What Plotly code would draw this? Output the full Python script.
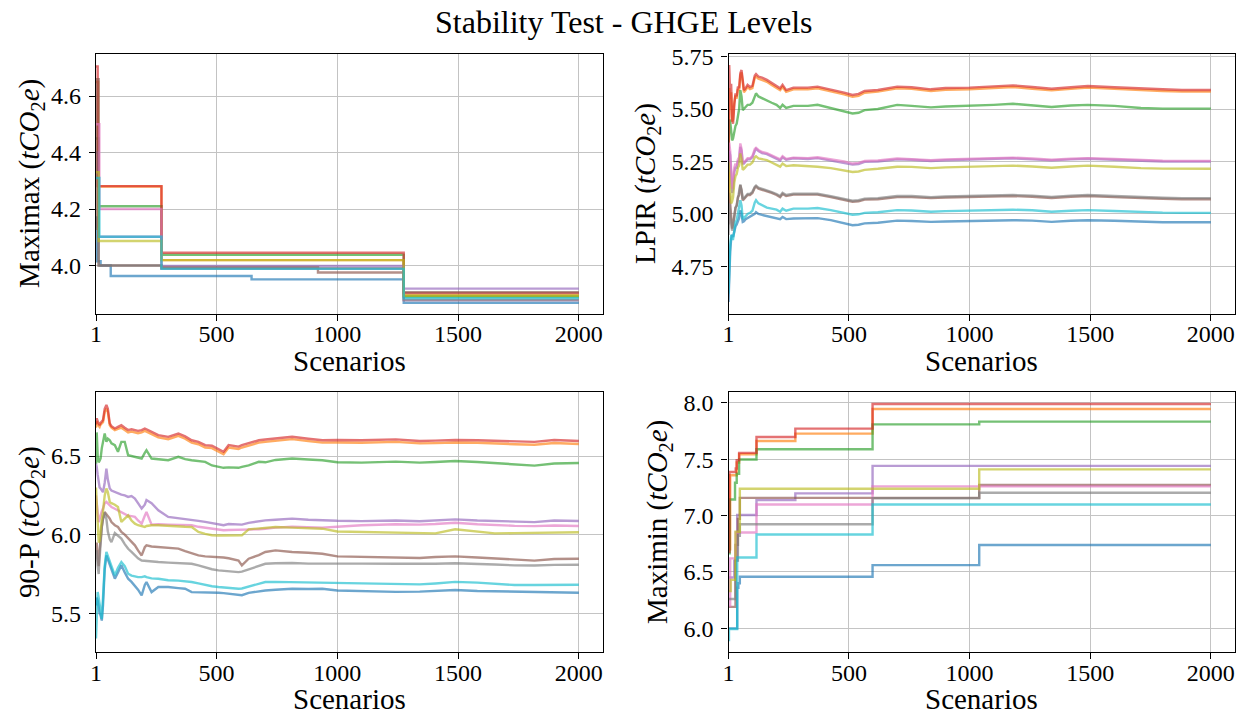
import plotly.graph_objects as go

# ---------------- data ----------------
TITLE = "Stability Test - GHGE Levels"
X_LABEL = "Scenarios"
Y_LABELS = ["Maximax", "LPIR", "90-P", "Maximin"]
SERIES_COLORS = ["#1f77b4", "#ff7f0e", "#2ca02c", "#d62728", "#9467bd",
                 "#8c564b", "#e377c2", "#7f7f7f", "#bcbd22", "#17becf"]
X_TICKS = [1, 500, 1000, 1500, 2000]

# Maximax (step values: each value holds until the next x)
MAXIMAX_X_BLUE = [1, 5, 20, 62, 645, 1275, 2000]
MAXIMAX_Y_BLUE = [4.17, 4.015, 4.0, 3.963, 3.951, 3.868, 3.868]
MAXIMAX_X_ORANGE = [1, 10, 272, 1275, 2000]
MAXIMAX_Y_ORANGE = [4.65, 4.28, 4.019, 3.894, 3.894]
MAXIMAX_X_GREEN = [1, 12, 272, 1275, 2000]
MAXIMAX_Y_GREEN = [4.45, 4.21, 4.038, 3.890, 3.890]
MAXIMAX_X_RED = [1, 8, 272, 1275, 2000]
MAXIMAX_Y_RED = [4.705, 4.281, 4.045, 3.902, 3.902]
MAXIMAX_X_PURPLE = [1, 10, 272, 1275, 2000]
MAXIMAX_Y_PURPLE = [4.40, 4.102, 3.998, 3.918, 3.918]
MAXIMAX_X_BROWN = [1, 4, 12, 272, 920, 1275, 2000]
MAXIMAX_Y_BROWN = [4.13, 4.66, 4.0, 3.993, 3.975, 3.905, 3.905]
MAXIMAX_X_PINK = [1, 15, 272, 1275, 2000]
MAXIMAX_Y_PINK = [4.50, 4.20, 3.988, 3.878, 3.878]
MAXIMAX_X_GRAY = [1, 12, 272, 1275, 2000]
MAXIMAX_Y_GRAY = [4.13, 4.0, 3.99, 3.878, 3.878]
MAXIMAX_X_OLIVE = [1, 12, 272, 1275, 2000]
MAXIMAX_Y_OLIVE = [4.33, 4.087, 4.019, 3.894, 3.894]
MAXIMAX_X_CYAN = [1, 15, 272, 1275, 2000]
MAXIMAX_Y_CYAN = [4.31, 4.102, 3.988, 3.884, 3.884]

# LPIR
LPIR_X = [1, 4, 8, 12, 16, 20, 25, 30, 35, 40, 45, 50, 55, 60, 65, 72, 80, 90, 100, 110,
          115, 125, 140, 160, 180, 200, 215, 225, 240, 270, 330, 370, 425, 480, 515, 540,
          565, 620, 700, 760, 840, 900, 1000, 1100, 1180, 1260, 1340, 1420, 1490, 1600,
          1710, 1800, 1880, 2000]
LPIR_BLUE = [4.58, 4.72, 4.82, 4.88, 4.90, 4.89, 4.92, 4.94, 4.95, 4.97, 4.98, 5.017, 5.0, 4.962,
             4.965, 4.975, 4.98, 4.985, 4.99, 5.0, 5.008, 5.0, 4.995, 4.99, 4.986, 4.98, 4.975,
             4.985, 4.975, 4.978, 4.978, 4.98, 4.97, 4.955, 4.946, 4.948, 4.955, 4.958, 4.968,
             4.966, 4.962, 4.964, 4.966, 4.968, 4.97, 4.968, 4.962, 4.967, 4.97, 4.967, 4.962,
             4.96, 4.96, 4.96]
LPIR_ORANGE = [5.10, 5.60, 5.50, 5.58, 5.44, 5.45, 5.53, 5.565, 5.55, 5.595, 5.59, 5.66, 5.675,
               5.61, 5.58, 5.59, 5.605, 5.595, 5.60, 5.65, 5.655, 5.645, 5.64, 5.63, 5.615, 5.60,
               5.59, 5.605, 5.582, 5.594, 5.594, 5.599, 5.586, 5.57, 5.558, 5.563, 5.578, 5.583,
               5.599, 5.596, 5.586, 5.592, 5.594, 5.599, 5.605, 5.597, 5.589, 5.596, 5.602,
               5.596, 5.589, 5.586, 5.583, 5.583]
LPIR_GREEN = [5.30, 5.45, 5.44, 5.38, 5.35, 5.36, 5.40, 5.42, 5.43, 5.47, 5.50, 5.59, 5.56, 5.495,
              5.50, 5.51, 5.52, 5.52, 5.53, 5.565, 5.575, 5.56, 5.551, 5.543, 5.53, 5.52, 5.505,
              5.52, 5.505, 5.515, 5.515, 5.52, 5.505, 5.49, 5.479, 5.482, 5.495, 5.50, 5.52,
              5.515, 5.508, 5.512, 5.515, 5.52, 5.525, 5.518, 5.51, 5.517, 5.52, 5.515, 5.505,
              5.502, 5.502, 5.502]
LPIR_RED = [5.05, 5.71, 5.55, 5.62, 5.45, 5.43, 5.52, 5.575, 5.56, 5.607, 5.60, 5.67, 5.686, 5.62,
            5.59, 5.60, 5.615, 5.605, 5.61, 5.66, 5.667, 5.655, 5.65, 5.639, 5.625, 5.61, 5.599,
            5.615, 5.59, 5.602, 5.602, 5.607, 5.594, 5.578, 5.567, 5.572, 5.586, 5.591, 5.607,
            5.604, 5.594, 5.600, 5.602, 5.607, 5.613, 5.605, 5.597, 5.604, 5.61, 5.604, 5.597,
            5.594, 5.591, 5.591]
LPIR_PURPLE = [5.20, 5.30, 5.28, 5.15, 5.10, 5.12, 5.20, 5.22, 5.22, 5.25, 5.25, 5.32, 5.30, 5.24,
               5.24, 5.25, 5.26, 5.26, 5.27, 5.30, 5.31, 5.30, 5.29, 5.285, 5.275, 5.265, 5.255,
               5.27, 5.258, 5.265, 5.262, 5.266, 5.255, 5.245, 5.235, 5.238, 5.248, 5.25, 5.26,
               5.258, 5.252, 5.256, 5.258, 5.26, 5.265, 5.26, 5.255, 5.26, 5.263, 5.258, 5.252,
               5.25, 5.249, 5.249]
LPIR_BROWN = [4.95, 5.10, 5.05, 4.98, 4.93, 4.95, 5.00, 5.03, 5.04, 5.08, 5.09, 5.137, 5.11, 5.065,
              5.07, 5.08, 5.09, 5.09, 5.10, 5.125, 5.13, 5.12, 5.115, 5.108, 5.1, 5.09, 5.08,
              5.095, 5.085, 5.092, 5.09, 5.092, 5.08, 5.068, 5.058, 5.06, 5.068, 5.07, 5.08,
              5.08, 5.075, 5.078, 5.08, 5.082, 5.085, 5.082, 5.076, 5.082, 5.085, 5.08, 5.074,
              5.072, 5.07, 5.07]
LPIR_PINK = [5.32, 5.34, 5.30, 5.20, 5.12, 5.15, 5.22, 5.24, 5.23, 5.26, 5.27, 5.336, 5.31, 5.245,
             5.245, 5.255, 5.265, 5.265, 5.275, 5.31, 5.315, 5.305, 5.295, 5.29, 5.28, 5.27, 5.26,
             5.275, 5.262, 5.268, 5.266, 5.27, 5.26, 5.25, 5.24, 5.243, 5.252, 5.255, 5.264,
             5.262, 5.256, 5.26, 5.262, 5.264, 5.268, 5.264, 5.258, 5.263, 5.266, 5.262, 5.256,
             5.254, 5.253, 5.253]
LPIR_GRAY = [4.90, 5.05, 5.00, 4.95, 4.92, 4.94, 5.00, 5.03, 5.04, 5.08, 5.095, 5.14, 5.115, 5.07,
             5.075, 5.085, 5.095, 5.095, 5.105, 5.13, 5.135, 5.125, 5.12, 5.112, 5.104, 5.095,
             5.085, 5.1, 5.09, 5.096, 5.094, 5.096, 5.085, 5.073, 5.063, 5.065, 5.073, 5.075,
             5.085, 5.085, 5.08, 5.083, 5.085, 5.087, 5.09, 5.087, 5.081, 5.087, 5.09, 5.085,
             5.079, 5.077, 5.075, 5.075]
LPIR_OLIVE = [5.25, 5.20, 5.10, 5.05, 5.06, 5.08, 5.15, 5.18, 5.19, 5.22, 5.23, 5.288, 5.26, 5.21,
              5.215, 5.225, 5.235, 5.235, 5.245, 5.27, 5.275, 5.265, 5.26, 5.256, 5.245, 5.235,
              5.225, 5.24, 5.228, 5.232, 5.228, 5.225, 5.218, 5.208, 5.2, 5.202, 5.21, 5.215,
              5.225, 5.224, 5.218, 5.222, 5.224, 5.226, 5.23, 5.226, 5.22, 5.226, 5.23, 5.225,
              5.218, 5.216, 5.215, 5.215]
LPIR_CYAN = [4.62, 4.75, 4.85, 4.90, 4.88, 4.88, 4.92, 4.96, 4.97, 5.00, 5.02, 5.065, 5.04, 4.975,
             4.98, 4.99, 5.00, 5.005, 5.015, 5.055, 5.065, 5.05, 5.04, 5.03, 5.025, 5.02, 5.01,
             5.025, 5.015, 5.025, 5.025, 5.028, 5.018, 5.005, 4.996, 4.998, 5.005, 5.008, 5.018,
             5.016, 5.01, 5.013, 5.015, 5.017, 5.02, 5.017, 5.01, 5.015, 5.018, 5.014, 5.008,
             5.006, 5.005, 5.005]

# 90-P
P90_X = [1, 4, 8, 12, 16, 20, 25, 30, 37, 44, 50, 58, 65, 79, 92, 106, 120, 134, 148, 162,
         175, 190, 203, 210, 231, 259, 300, 342, 370, 397, 425, 453, 481, 508, 529, 550, 591,
         605, 633, 675, 702, 744, 813, 880, 938, 1000, 1100, 1242, 1341, 1406, 1488, 1580,
         1652, 1734, 1816, 1898, 2000]
P90_BLUE = [5.55, 5.60, 5.58, 5.52, 5.50, 5.486, 5.454, 5.55, 5.78, 5.868, 5.84, 5.805, 5.78, 5.72,
            5.76, 5.805, 5.76, 5.72, 5.70, 5.677, 5.65, 5.614, 5.68, 5.699, 5.635, 5.667, 5.667,
            5.66, 5.656, 5.635, 5.635, 5.633, 5.632, 5.631, 5.628, 5.625, 5.618, 5.615, 5.63,
            5.64, 5.645, 5.65, 5.656, 5.655, 5.656, 5.645, 5.64, 5.636, 5.638, 5.642, 5.648,
            5.642, 5.64, 5.635, 5.632, 5.634, 5.631]
P90_ORANGE = [6.68, 6.72, 6.70, 6.69, 6.685, 6.70, 6.71, 6.715, 6.78, 6.80, 6.78, 6.695, 6.68,
              6.665, 6.672, 6.68, 6.665, 6.65, 6.655, 6.65, 6.645, 6.65, 6.66, 6.655, 6.64, 6.618,
              6.607, 6.628, 6.61, 6.585, 6.575, 6.554, 6.55, 6.53, 6.512, 6.554, 6.545, 6.554,
              6.565, 6.585, 6.59, 6.596, 6.607, 6.595, 6.585, 6.586, 6.584, 6.59, 6.58, 6.582,
              6.586, 6.584, 6.582, 6.575, 6.572, 6.583, 6.576]
P90_GREEN = [6.45, 6.65, 6.50, 6.46, 6.47, 6.484, 6.55, 6.60, 6.643, 6.59, 6.61, 6.60, 6.58, 6.569,
             6.527, 6.59, 6.59, 6.505, 6.50, 6.495, 6.49, 6.484, 6.52, 6.537, 6.484, 6.48, 6.473,
             6.495, 6.48, 6.473, 6.468, 6.463, 6.44, 6.431, 6.425, 6.428, 6.425, 6.431, 6.44,
             6.463, 6.46, 6.475, 6.484, 6.478, 6.473, 6.46, 6.458, 6.464, 6.458, 6.462, 6.468,
             6.462, 6.455, 6.45, 6.439, 6.452, 6.456]
P90_RED = [6.70, 6.74, 6.72, 6.70, 6.696, 6.71, 6.72, 6.728, 6.80, 6.824, 6.80, 6.707, 6.69, 6.675,
           6.685, 6.696, 6.68, 6.665, 6.67, 6.665, 6.66, 6.665, 6.675, 6.67, 6.655, 6.633, 6.622,
           6.643, 6.625, 6.60, 6.59, 6.569, 6.565, 6.545, 6.527, 6.569, 6.56, 6.569, 6.58, 6.60,
           6.605, 6.611, 6.622, 6.61, 6.60, 6.602, 6.60, 6.606, 6.595, 6.598, 6.602, 6.60, 6.598,
           6.591, 6.59, 6.602, 6.595]
P90_PURPLE = [6.45, 6.43, 6.38, 6.33, 6.30, 6.293, 6.28, 6.27, 6.33, 6.42, 6.35, 6.293, 6.28, 6.27,
              6.26, 6.255, 6.25, 6.24, 6.245, 6.23, 6.2, 6.166, 6.19, 6.22, 6.2, 6.155, 6.113,
              6.105, 6.102, 6.095, 6.088, 6.081, 6.075, 6.065, 6.06, 6.068, 6.064, 6.064, 6.075,
              6.085, 6.091, 6.095, 6.102, 6.095, 6.091, 6.088, 6.086, 6.09, 6.085, 6.09, 6.097,
              6.09, 6.088, 6.082, 6.08, 6.09, 6.087]
P90_BROWN = [5.90, 5.95, 5.85, 5.80, 5.90, 5.98, 6.05, 6.10, 6.144, 6.13, 6.12, 6.102, 6.08, 6.06,
             6.049, 6.017, 6.0, 5.975, 5.95, 5.932, 5.9, 5.868, 5.92, 5.932, 5.925, 5.921, 5.915,
             5.911, 5.895, 5.88, 5.868, 5.862, 5.86, 5.858, 5.855, 5.85, 5.836, 5.805, 5.847,
             5.87, 5.89, 5.90, 5.89, 5.885, 5.879, 5.862, 5.858, 5.855, 5.852, 5.858, 5.862,
             5.855, 5.85, 5.84, 5.835, 5.845, 5.847]
P90_PINK = [6.25, 6.20, 6.10, 6.08, 6.10, 6.13, 6.15, 6.166, 6.20, 6.208, 6.20, 6.187, 6.175, 6.165,
            6.155, 6.14, 6.13, 6.12, 6.118, 6.113, 6.09, 6.07, 6.12, 6.144, 6.064, 6.066, 6.064,
            6.063, 6.061, 6.06, 6.05, 6.045, 6.04, 6.032, 6.028, 6.03, 6.03, 6.03, 6.032, 6.034,
            6.038, 6.045, 6.05, 6.049, 6.045, 6.05, 6.06, 6.066, 6.064, 6.068, 6.076, 6.066,
            6.06, 6.056, 6.054, 6.058, 6.055]
P90_GRAY = [5.85, 5.90, 5.80, 5.75, 5.85, 5.95, 6.05, 6.10, 6.14, 6.10, 6.02, 5.97, 5.953, 6.01,
            5.99, 5.975, 5.94, 5.91, 5.89, 5.87, 5.85, 5.836, 5.835, 5.833, 5.83, 5.826, 5.822,
            5.82, 5.818, 5.815, 5.805, 5.79, 5.78, 5.773, 5.77, 5.768, 5.762, 5.765, 5.78, 5.80,
            5.815, 5.818, 5.82, 5.816, 5.815, 5.815, 5.816, 5.815, 5.813, 5.815, 5.818, 5.815,
            5.81, 5.805, 5.804, 5.808, 5.809]
P90_OLIVE = [6.30, 6.20, 6.00, 5.95, 5.96, 6.05, 6.10, 6.15, 6.25, 6.293, 6.27, 6.208, 6.20, 6.19,
             6.176, 6.081, 6.10, 6.123, 6.09, 6.07, 6.06, 6.055, 6.049, 6.055, 6.06, 6.06, 6.055,
             6.052, 6.05, 6.049, 6.017, 6.005, 5.996, 5.995, 5.996, 5.995, 5.996, 5.996, 6.034,
             6.04, 6.045, 6.049, 6.045, 6.04, 6.038, 6.02, 6.018, 6.012, 6.01, 6.008, 6.034,
             6.02, 6.008, 6.01, 6.012, 6.015, 6.015]
P90_CYAN = [5.34, 5.50, 5.635, 5.60, 5.55, 5.50, 5.465, 5.60, 5.80, 5.89, 5.86, 5.826, 5.80, 5.741,
            5.79, 5.826, 5.80, 5.752, 5.74, 5.735, 5.73, 5.73, 5.735, 5.73, 5.722, 5.72, 5.71,
            5.708, 5.705, 5.699, 5.69, 5.68, 5.672, 5.667, 5.664, 5.66, 5.656, 5.658, 5.67, 5.69,
            5.699, 5.70, 5.698, 5.695, 5.694, 5.69, 5.688, 5.685, 5.684, 5.69, 5.70, 5.695, 5.69,
            5.68, 5.68, 5.683, 5.682]

# Maximin (step values)
MAXIMIN_X_BLUE = [1, 37, 42, 48, 598, 1040, 2000]
MAXIMIN_Y_BLUE = [6.0, 6.36, 6.40, 6.457, 6.56, 6.739, 6.739]
MAXIMIN_X_ORANGE = [1, 8, 35, 45, 117, 278, 598, 2000]
MAXIMIN_Y_ORANGE = [6.70, 7.357, 7.47, 7.543, 7.66, 7.726, 7.944, 7.944]
MAXIMIN_X_GREEN = [1, 6, 28, 35, 45, 117, 598, 1040, 2000]
MAXIMIN_Y_GREEN = [6.664, 7.142, 7.29, 7.37, 7.496, 7.587, 7.808, 7.832, 7.832]
MAXIMIN_X_RED = [1, 5, 31, 35, 45, 117, 278, 598, 2000]
MAXIMIN_Y_RED = [6.678, 7.386, 7.416, 7.49, 7.555, 7.696, 7.77, 7.988, 7.988]
MAXIMIN_X_PURPLE = [1, 25, 37, 117, 278, 598, 2000]
MAXIMIN_Y_PURPLE = [6.45, 6.60, 7.005, 7.136, 7.196, 7.44, 7.44]
MAXIMIN_X_BROWN = [1, 30, 40, 48, 1040, 2000]
MAXIMIN_Y_BROWN = [6.19, 6.74, 6.97, 7.156, 7.27, 7.27]
MAXIMIN_X_PINK = [1, 8, 31, 117, 598, 2000]
MAXIMIN_Y_PINK = [6.20, 6.62, 6.85, 7.097, 7.258, 7.258]
MAXIMIN_X_GRAY = [1, 30, 40, 48, 598, 1040, 2000]
MAXIMIN_Y_GRAY = [6.26, 6.60, 6.82, 6.923, 7.153, 7.202, 7.202]
MAXIMIN_X_OLIVE = [1, 10, 30, 48, 1040, 2000]
MAXIMIN_Y_OLIVE = [6.33, 6.43, 6.856, 7.237, 7.409, 7.409]
MAXIMIN_X_CYAN = [1, 3, 37, 117, 598, 2000]
MAXIMIN_Y_CYAN = [5.897, 5.994, 6.628, 6.832, 7.097, 7.097]

# ---------------- assemble ----------------
maximax = [(MAXIMAX_X_BLUE, MAXIMAX_Y_BLUE), (MAXIMAX_X_ORANGE, MAXIMAX_Y_ORANGE),
           (MAXIMAX_X_GREEN, MAXIMAX_Y_GREEN), (MAXIMAX_X_RED, MAXIMAX_Y_RED),
           (MAXIMAX_X_PURPLE, MAXIMAX_Y_PURPLE), (MAXIMAX_X_BROWN, MAXIMAX_Y_BROWN),
           (MAXIMAX_X_PINK, MAXIMAX_Y_PINK), (MAXIMAX_X_GRAY, MAXIMAX_Y_GRAY),
           (MAXIMAX_X_OLIVE, MAXIMAX_Y_OLIVE), (MAXIMAX_X_CYAN, MAXIMAX_Y_CYAN)]
lpir = [(LPIR_X, s) for s in [LPIR_BLUE, LPIR_ORANGE, LPIR_GREEN, LPIR_RED, LPIR_PURPLE,
                              LPIR_BROWN, LPIR_PINK, LPIR_GRAY, LPIR_OLIVE, LPIR_CYAN]]
p90 = [(P90_X, s) for s in [P90_BLUE, P90_ORANGE, P90_GREEN, P90_RED, P90_PURPLE,
                            P90_BROWN, P90_PINK, P90_GRAY, P90_OLIVE, P90_CYAN]]
maximin = [(MAXIMIN_X_BLUE, MAXIMIN_Y_BLUE), (MAXIMIN_X_ORANGE, MAXIMIN_Y_ORANGE),
           (MAXIMIN_X_GREEN, MAXIMIN_Y_GREEN), (MAXIMIN_X_RED, MAXIMIN_Y_RED),
           (MAXIMIN_X_PURPLE, MAXIMIN_Y_PURPLE), (MAXIMIN_X_BROWN, MAXIMIN_Y_BROWN),
           (MAXIMIN_X_PINK, MAXIMIN_Y_PINK), (MAXIMIN_X_GRAY, MAXIMIN_Y_GRAY),
           (MAXIMIN_X_OLIVE, MAXIMIN_Y_OLIVE), (MAXIMIN_X_CYAN, MAXIMIN_Y_CYAN)]

for group in (maximax, lpir, p90, maximin):
    for xs, ys in group:
        assert len(xs) == len(ys), (len(xs), len(ys))

# The page body has an 8px margin, so the figure is drawn 8px smaller and all
# window-pixel positions below are converted with that offset.
OFF = 8
W, H = 1247 - OFF, 712 - OFF
FONT = "Liberation Serif"


def px(x):
    return (x - OFF) / W


def py(y):
    return 1 - (y - OFF) / H


# axes boxes in window pixels (left, right, top, bottom)
BOXES = [(96, 603, 54.3, 313.5), (728.5, 1235, 54.3, 313.5),
         (96, 603, 392.3, 651.7), (728.5, 1235, 392.3, 651.7)]
YRANGES = [[3.830, 4.748], [4.525, 5.761], [5.256, 6.905], [5.793, 8.092]]
YTICKS = [[4.0, 4.2, 4.4, 4.6], [4.75, 5.00, 5.25, 5.50, 5.75], [5.5, 6.0, 6.5],
          [6.0, 6.5, 7.0, 7.5, 8.0]]
YFMT = [".1f", ".2f", ".1f", ".1f"]
SHAPES = ["hv", "linear", "linear", "hv"]
YLAB_X = [31, 647, 31, 659]

fig = go.Figure()
layout = dict(width=W, height=H, margin=dict(l=0, r=0, t=0, b=0, autoexpand=False),
              paper_bgcolor="white", plot_bgcolor="white", showlegend=False,
              font=dict(family=FONT, color="black", size=24))
annotations = []

for i, group in enumerate((maximax, lpir, p90, maximin)):
    n = i + 1
    xa = "x" if n == 1 else f"x{n}"
    ya = "y" if n == 1 else f"y{n}"
    for k, (xs, ys) in enumerate(group):
        fig.add_trace(go.Scatter(x=xs, y=ys, mode="lines", xaxis=xa, yaxis=ya,
                                 line=dict(color=SERIES_COLORS[k], width=2.4, shape=SHAPES[i]),
                                 opacity=0.65, hoverinfo="skip"))
    l, r, t, b = BOXES[i]
    common = dict(showline=True, mirror=True, linecolor="black", linewidth=1.2,
                  ticks="outside", ticklen=6, tickwidth=1.2, tickcolor="black",
                  showgrid=True, gridcolor="#c4c4c4", gridwidth=1.1, zeroline=False,
                  automargin=False,
                  tickfont=dict(family=FONT, size=24, color="black"))
    layout["xaxis" if n == 1 else f"xaxis{n}"] = dict(
        domain=[px(l), px(r)], anchor=ya, range=[1, 2100], tickvals=X_TICKS,
        ticktext=[str(v) for v in X_TICKS], ticklabelstandoff=-7, **common)
    layout["yaxis" if n == 1 else f"yaxis{n}"] = dict(
        domain=[py(b), py(t)], anchor=xa, range=YRANGES[i], tickvals=YTICKS[i],
        tickformat=YFMT[i], ticklabelstandoff=3, **common)
    annotations.append(dict(text=X_LABEL, xref="paper", yref="paper",
                            x=px((l + r) / 2), y=py(b + 47), xanchor="center",
                            yanchor="middle", showarrow=False,
                            font=dict(family=FONT, size=29, color="black")))
    annotations.append(dict(text=f"{Y_LABELS[i]} (<i>tCO</i><sub>2</sub><i>e</i>)",
                            xref="paper", yref="paper", x=px(YLAB_X[i]),
                            y=py((t + b) / 2), xanchor="center", yanchor="middle",
                            textangle=-90, showarrow=False,
                            font=dict(family=FONT, size=29, color="black")))

annotations.append(dict(text=TITLE, xref="paper", yref="paper", x=px(623.5), y=py(22),
                        xanchor="center", yanchor="middle", showarrow=False,
                        font=dict(family=FONT, size=32, color="black")))
layout["annotations"] = annotations
fig.update_layout(**layout)
fig.write_html("out.html")
